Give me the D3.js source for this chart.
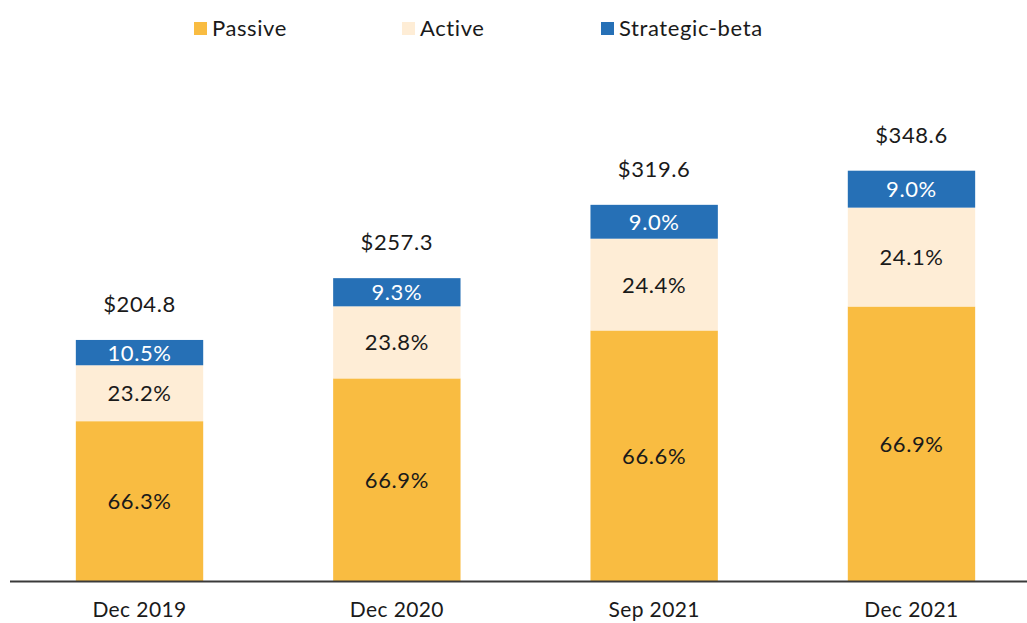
<!DOCTYPE html>
<html lang="en">
<head>
<meta charset="utf-8">
<title>Assets by strategy</title>
<script src="https://d3js.org/d3.v7.min.js"></script>
<style>
  body { margin: 0; background: #fff; }
  svg text { font-family: Lato, "Open Sans", sans-serif; fill: #1a1a1a; letter-spacing: 0.6px; }
</style>
</head>
<body>
<div id="chart"></div>
<script>
// data
const periods = ["Dec 2019", "Dec 2020", "Sep 2021", "Dec 2021"];
const totals = [204.8, 257.3, 319.6, 348.6];
const passive = [66.3, 66.9, 66.6, 66.9];
const active = [23.2, 23.8, 24.4, 24.1];
const strategicBeta = [10.5, 9.3, 9.0, 9.0];
const seriesNames = ["Passive", "Active", "Strategic-beta"];
const seriesColors = ["#f9bc41", "#feedd6", "#2670b6"];
const labelColors = ["#1a1a1a", "#1a1a1a", "#ffffff"];

const width = 1027, height = 623;
const baseY = 581;

const svg = d3.select("#chart").append("svg")
  .attr("width", width).attr("height", height);

const x = d3.scaleBand()
  .domain(periods)
  .range([11.5, 1039.5])
  .paddingInner(0.505)
  .paddingOuter(0.25);

const y = d3.scaleLinear()
  .domain([0, 348.6])
  .range([baseY, 170.7]);

// rows of dollar values per segment
const rows = periods.map((p, i) => ({
  period: p,
  total: totals[i],
  "Passive": totals[i] * passive[i] / 100,
  "Active": totals[i] * active[i] / 100,
  "Strategic-beta": totals[i] * strategicBeta[i] / 100,
  pct: [passive[i], active[i], strategicBeta[i]]
}));

const stack = d3.stack().keys(seriesNames);
const layers = stack(rows);

const g = svg.selectAll("g.layer")
  .data(layers)
  .enter().append("g")
  .attr("class", "layer");

g.selectAll("rect")
  .data(d => d)
  .enter().append("rect")
  .attr("x", d => x(d.data.period))
  .attr("width", x.bandwidth())
  .attr("y", d => y(d[1]))
  .attr("height", d => y(d[0]) - y(d[1]))
  .attr("fill", function() { return seriesColors[d3.select(this.parentNode).datum().index]; });

g.selectAll("text")
  .data(d => d.map(v => Object.assign({ idx: d.index }, { v })))
  .enter().append("text")
  .attr("x", d => x(d.v.data.period) + x.bandwidth() / 2)
  .attr("y", d => (y(d.v[0]) + y(d.v[1])) / 2)
  .attr("dy", "0.36em")
  .attr("text-anchor", "middle")
  .style("font-size", "22px")
  .style("fill", d => labelColors[d.idx])
  .text(d => d.v.data.pct[d.idx].toFixed(1) + "%");

// totals above bars
svg.selectAll("text.total")
  .data(rows)
  .enter().append("text")
  .attr("class", "total")
  .attr("x", d => x(d.period) + x.bandwidth() / 2)
  .attr("y", d => y(d.total) - 36)
  .attr("dy", "0.36em")
  .attr("text-anchor", "middle")
  .style("font-size", "22px")
  .text(d => "$" + d.total.toFixed(1));

// baseline and category labels
svg.append("line")
  .attr("x1", 10).attr("x2", width)
  .attr("y1", baseY + 0.5).attr("y2", baseY + 0.5)
  .attr("stroke", "#3a3a3a").attr("stroke-width", 2);

const xAxis = svg.append("g")
  .attr("transform", `translate(0,${baseY})`)
  .call(d3.axisBottom(x).tickSize(0).tickPadding(21));
xAxis.select(".domain").remove();
xAxis.selectAll("text")
  .style("font-family", "Lato, 'Open Sans', sans-serif")
  .style("font-size", "21px")
  .style("letter-spacing", "0.4px")
  .style("fill", "#1a1a1a");

// legend
const legendX = [194, 402, 601];
const legend = svg.selectAll("g.legend")
  .data(seriesNames)
  .enter().append("g")
  .attr("class", "legend")
  .attr("transform", (d, i) => `translate(${legendX[i]},22)`);
legend.append("rect")
  .attr("width", 13).attr("height", 13)
  .attr("fill", (d, i) => seriesColors[i]);
legend.append("text")
  .attr("x", 18).attr("y", 6.5)
  .attr("dy", "0.36em")
  .style("font-size", "22px")
  .text(d => d);
</script>
</body>
</html>
